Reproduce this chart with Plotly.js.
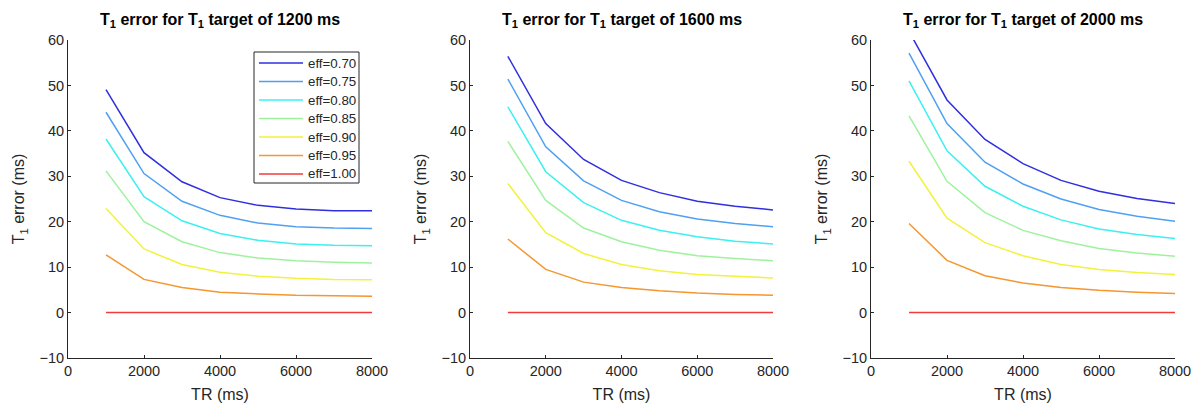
<!DOCTYPE html>
<html>
<head>
<meta charset="utf-8">
<script src="https://cdn.plot.ly/plotly-3.0.1.min.js"></script>
<style>html,body{margin:0;padding:0;background:#fff;}#chart{width:1199px;height:405px;}</style>
</head>
<body>
<div id="chart"></div>
<script>
const TR = [1000, 2000, 3000, 4000, 5000, 6000, 7000, 8000];
const effLabels = ['eff=0.70', 'eff=0.75', 'eff=0.80', 'eff=0.85', 'eff=0.90', 'eff=0.95', 'eff=1.00'];
const targets = [1200, 1600, 2000];

// T1 target 1200 ms
const err1200 = [
  [49.1, 35.2, 28.8, 25.3, 23.6, 22.8, 22.4, 22.4],
  [44.1, 30.6, 24.5, 21.4, 19.7, 18.9, 18.6, 18.5],
  [38.2, 25.5, 20.2, 17.4, 15.9, 15.1, 14.8, 14.7],
  [31.2, 20.0, 15.6, 13.2, 12.0, 11.4, 11.1, 10.9],
  [22.9, 14.0, 10.6, 8.9, 8.0, 7.55, 7.3, 7.25],
  [12.7, 7.3, 5.5, 4.5, 4.1, 3.8, 3.7, 3.6],
  [0, 0, 0, 0, 0, 0, 0, 0]
];
// T1 target 1600 ms
const err1600 = [
  [56.4, 41.6, 33.7, 29.1, 26.4, 24.5, 23.4, 22.6],
  [51.4, 36.5, 29.0, 24.7, 22.2, 20.6, 19.6, 18.9],
  [45.3, 31.0, 24.2, 20.3, 18.1, 16.7, 15.7, 15.1],
  [37.7, 24.7, 18.6, 15.6, 13.7, 12.5, 11.9, 11.4],
  [28.4, 17.6, 13.0, 10.6, 9.2, 8.4, 8.0, 7.6],
  [16.2, 9.5, 6.7, 5.5, 4.8, 4.3, 4.0, 3.8],
  [0, 0, 0, 0, 0, 0, 0, 0]
];
// T1 target 2000 ms
const err2000 = [
  [61.9, 46.8, 38.1, 32.8, 29.1, 26.7, 25.1, 24.0],
  [57.1, 41.6, 33.1, 28.3, 25.0, 22.7, 21.2, 20.1],
  [51.0, 35.6, 27.8, 23.4, 20.4, 18.4, 17.2, 16.3],
  [43.3, 28.9, 22.0, 18.1, 15.8, 14.1, 13.1, 12.4],
  [33.3, 20.8, 15.4, 12.5, 10.6, 9.5, 8.8, 8.4],
  [19.6, 11.5, 8.1, 6.5, 5.5, 4.9, 4.5, 4.2],
  [0, 0, 0, 0, 0, 0, 0, 0]
];

const colors = ['#2f2fe0', '#4fa0f2', '#3cf0f0', '#9ef29e', '#f2f23c', '#f5962e', '#f03c3c'];
const allErr = [err1200, err1600, err2000];

const W = 1199, H = 405;
const px = v => v / W;          // pixel -> paper x
const py = v => 1 - v / H;      // pixel -> paper y

const traces = [];
allErr.forEach((set, p) => {
  set.forEach((ys, i) => {
    traces.push({
      x: TR, y: ys, type: 'scatter', mode: 'lines',
      name: effLabels[i],
      line: {color: colors[i], width: 1.5},
      xaxis: p === 0 ? 'x' : 'x' + (p + 1),
      yaxis: p === 0 ? 'y' : 'y' + (p + 1),
      showlegend: false
    });
  });
});

const FAM = '"Liberation Sans", Arial, Helvetica, sans-serif';
const font = (size, color) => ({family: FAM, size: size, color: color || '#262626'});
const domainsX = [[px(68), px(372)], [px(470), px(773)], [px(871), px(1175)]];
const domY = [py(358), py(40)];

const layout = {
  width: W, height: H,
  margin: {l: 0, r: 0, t: 0, b: 0},
  paper_bgcolor: '#fff', plot_bgcolor: '#fff',
  font: font(14),
  showlegend: false,
  annotations: [],
  shapes: []
};

for (let p = 0; p < 3; p++) {
  const sx = p === 0 ? '' : String(p + 1);
  layout['xaxis' + sx] = {
    domain: domainsX[p], range: [0, 8000], dtick: 2000, tick0: 0,
    showline: true, linecolor: '#262626', linewidth: 1,
    ticks: 'inside', ticklen: 3, tickcolor: '#262626',
    showgrid: false, zeroline: false,
    tickfont: font(14.5),
    title: {text: 'TR (ms)', font: font(16), standoff: 10},
    anchor: 'y' + sx
  };
  layout['yaxis' + sx] = {
    domain: domY, range: [-10, 60], dtick: 10, tick0: 0,
    showline: true, linecolor: '#262626', linewidth: 1,
    ticks: 'inside', ticklen: 3, tickcolor: '#262626',
    showgrid: false, zeroline: false,
    tickfont: font(14.5),
    title: {text: 'T<sub>1</sub> error (ms)', font: font(16), standoff: 10},
    anchor: 'x' + sx
  };
  layout.annotations.push({
    text: '<b>T<sub>1</sub> error for T<sub>1</sub> target of ' + targets[p] + ' ms</b>',
    xref: 'paper', yref: 'paper',
    x: (domainsX[p][0] + domainsX[p][1]) / 2, y: py(21),
    xanchor: 'center', yanchor: 'middle', showarrow: false,
    font: font(16, '#000')
  });
}

// Legend box (as in the reference: long line samples, tight rows)
const LG = {left: 254, right: 359, top: 52, bottom: 183, first: 63, step: 18.5, lineL: 259, lineR: 303, textL: 306};
layout.shapes.push({
  type: 'rect', xref: 'paper', yref: 'paper',
  x0: px(LG.left), x1: px(LG.right), y0: py(LG.bottom), y1: py(LG.top),
  line: {color: '#262626', width: 1}, fillcolor: '#fff', layer: 'above'
});
effLabels.forEach((lab, i) => {
  const yc = LG.first + i * LG.step;
  layout.shapes.push({
    type: 'line', xref: 'paper', yref: 'paper',
    x0: px(LG.lineL), x1: px(LG.lineR), y0: py(yc), y1: py(yc),
    line: {color: colors[i], width: 1.5}, layer: 'above'
  });
  layout.annotations.push({
    text: lab, xref: 'paper', yref: 'paper',
    x: px(LG.textL), y: py(yc), xanchor: 'left', yanchor: 'middle',
    showarrow: false, font: font(13.3)
  });
});

Plotly.newPlot('chart', traces, layout, {displayModeBar: false, staticPlot: true});
</script>
</body>
</html>
